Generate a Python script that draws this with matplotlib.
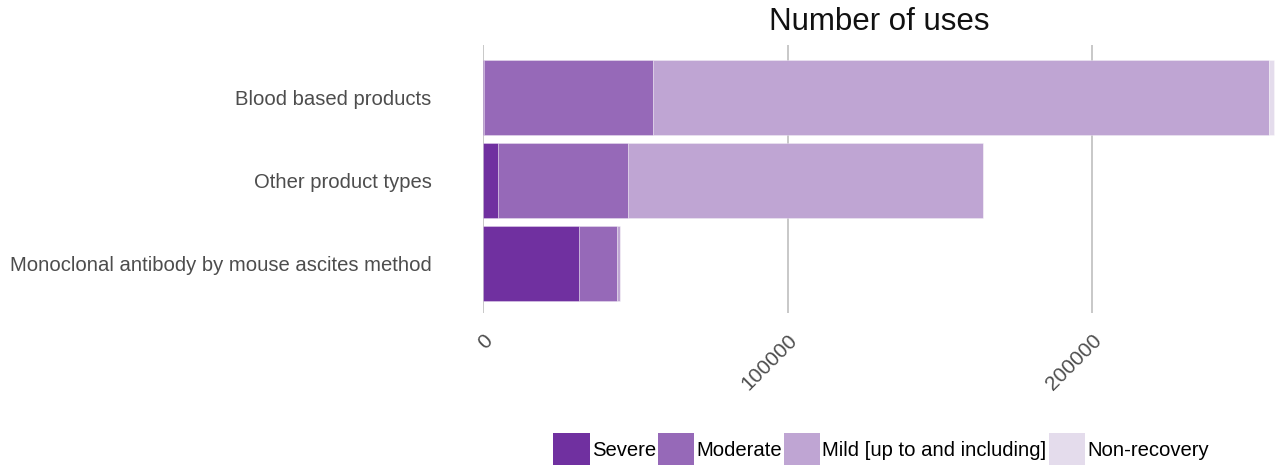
import matplotlib
matplotlib.use("Agg")
import matplotlib.pyplot as plt
from matplotlib.patches import Patch

categories = ["Blood based products", "Other product types",
              "Monoclonal antibody by mouse ascites method"]
series_names = ["Severe", "Moderate", "Mild [up to and including]", "Non-recovery"]
severe = [300, 4900, 31500]
moderate = [55500, 42700, 12500]
mild = [202300, 116600, 1000]
non_recovery = [1700, 0, 0]
colors = ["#7030A0", "#9669B8", "#BFA5D3", "#E4DCEC"]
xticks = [0, 100000, 200000]

plt.rcParams['font.family'] = ['Liberation Sans', 'DejaVu Sans']

fig = plt.figure(figsize=(12.75, 4.65), dpi=100)
ax = fig.add_axes([483/1275, 1-313/465, 1-483/1275, (313-45)/465])

ypos = list(range(len(categories)))
left = [0]*len(categories)
for vals, c, name in zip([severe, moderate, mild, non_recovery], colors, series_names):
    ax.barh(ypos, vals, left=left, height=0.9, color=c, edgecolor=(1, 1, 1, 0.35),
            linewidth=0.6, label=name, zorder=3)
    left = [l + v for l, v in zip(left, vals)]

ax.set_xlim(0, 260000)
ax.set_ylim(2.6, -0.63)
ax.set_yticks(ypos)
ax.set_yticklabels(categories, fontsize=14.6, color="#4d4d4d")
ax.tick_params(axis='y', length=0, pad=37)
ax.set_xticks(xticks)
ax.set_xticklabels([str(x) for x in xticks], rotation=45, ha='right',
                   rotation_mode='anchor', fontsize=15, color="#4d4d4d")
ax.tick_params(axis='x', length=0, pad=13)
ax.grid(axis='x', color="#bfbfbf", linewidth=1.2, zorder=0)
for s in ax.spines.values():
    s.set_visible(False)

ax.set_title("Number of uses", fontsize=22.5, color="#111111", pad=11)

handles = [Patch(facecolor=c, edgecolor='none') for c in colors]
fig.legend(handles, series_names, loc='lower left', bbox_to_anchor=(545/1275, -0.02),
           ncol=4, frameon=False, fontsize=14.6, handlelength=1.8, handleheight=2.15,
           handletextpad=0.1, columnspacing=0.1, borderaxespad=0)

fig.savefig("out.png", dpi=100)
